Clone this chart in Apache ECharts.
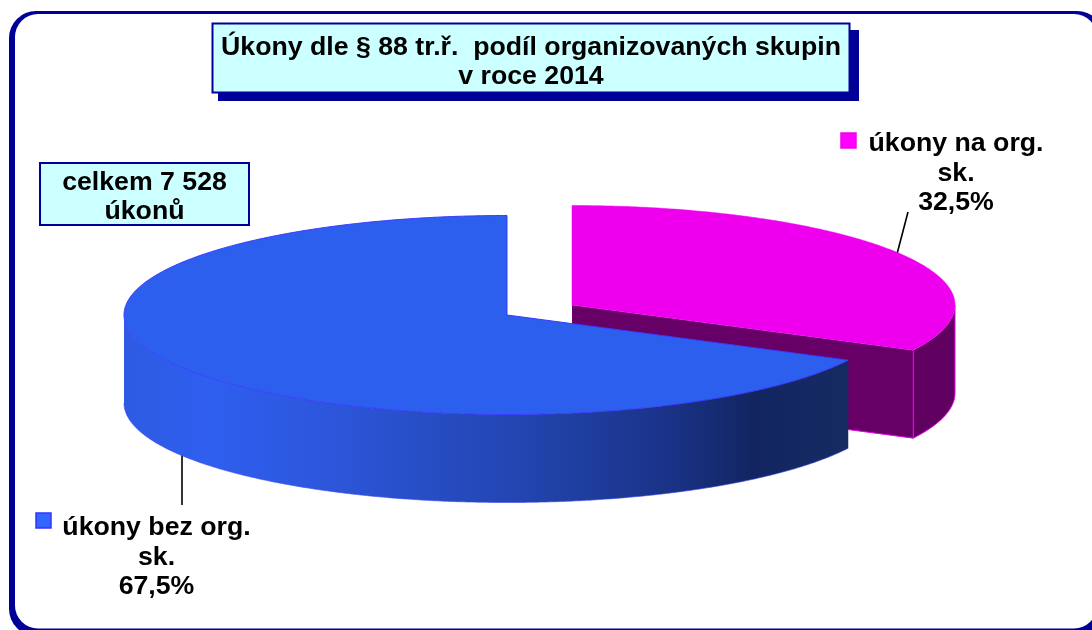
<!DOCTYPE html>
<html><head><meta charset="utf-8">
<style>html,body{margin:0;padding:0;background:#fff;overflow:hidden}#c{width:1092px;height:630px}</style>
<script src="https://cdn.jsdelivr.net/npm/echarts@6/dist/echarts.min.js"></script>
</head><body><div id="c"></div>
<script>
const chartTitle = 'Úkony dle § 88 tr.ř.  podíl organizovaných skupin\nv roce 2014';
const totalNote = 'celkem 7 528\núkonů';
const categories = ['úkony na org.\nsk.', 'úkony bez org.\nsk.'];
const shares = [32.5, 67.5];
const percentLabels = ['32,5%', '67,5%'];

const FONT = '"Liberation Sans", Arial, sans-serif';
const FS = 26.7;
const RX = 383, RY = 99.5, DEPTH = 88;
const sliceLayout = [
  { cx: 572, cy: 305, top: '#ee00ee', side: '#600060', cut: '#660066', edge: '#ee00ee', topEdge: '#ee00ee',
    labelX: 956, labelY: 129, keyX: 841, keyY: 133, keyFill: '#ff00ff', keyStroke: '#ee00ee',
    lead: [[908, 212], [897, 254]] },
  { cx: 507, cy: 315, top: '#2d5fef', side: null, cut: null, edge: '#3a46f5', topEdge: '#3a3aff',
    labelX: 156.5, labelY: 513, keyX: 36, keyY: 513, keyFill: '#3366ff', keyStroke: '#3333ff',
    lead: [[182, 455], [182, 505]] }
];
const blueSideGradient = { type: 'linear', x: 124, y: 0, x2: 848, y2: 0, global: true, colorStops: [
  { offset: 0, color: '#2e5be2' }, { offset: 0.12, color: '#2f5ff0' }, { offset: 0.3, color: '#2c55d8' },
  { offset: 0.55, color: '#2245b0' }, { offset: 0.75, color: '#1a3388' }, { offset: 0.87, color: '#122561' },
  { offset: 1, color: '#162b62' } ] };

const total = shares.reduce((a, b) => a + b, 0);
let acc = 0;
const sliceData = shares.map((v, i) => {
  const start = acc / total * 360; acc += v;
  return { value: [i, v, start, acc / total * 360], name: categories[i] };
});
const pt = (l, deg, dy) => {
  const t = deg * Math.PI / 180;
  return [l.cx + RX * Math.sin(t), l.cy - RY * Math.cos(t) + (dy || 0)];
};
const arc = (l, a, b, dy) => {
  const n = Math.max(2, Math.ceil(Math.abs(b - a) * 2)), out = [];
  for (let k = 0; k <= n; k++) out.push(pt(l, a + (b - a) * k / n, dy));
  return out;
};
function renderSlice(params, api) {
  const i = api.value(0), a = api.value(2), b = api.value(3), l = sliceLayout[i];
  const kids = [];
  kids.push({ type: 'line', shape: { x1: l.lead[0][0], y1: l.lead[0][1], x2: l.lead[1][0], y2: l.lead[1][1] }, style: { stroke: '#000', lineWidth: 1.6 } });
  const fa = Math.max(a, 90), fb = Math.min(b, 270);
  if (i === 0) {
    const e = pt(l, b), eb = pt(l, b, DEPTH), c = [l.cx, l.cy], cb = [l.cx, l.cy + DEPTH];
    kids.push({ type: 'polygon', shape: { points: [c, e, eb, cb] }, style: { fill: l.cut } });
    kids.push({ type: 'polyline', shape: { points: [cb, eb] }, style: { stroke: l.edge, fill: null, lineWidth: 1 } });
  }
  if (fb > fa) {
    const outer = arc(l, fa, fb).concat(arc(l, fb, fa, DEPTH));
    kids.push({ type: 'polygon', shape: { points: outer }, style: { fill: i === 0 ? l.side : blueSideGradient } });
    kids.push({ type: 'polyline', shape: { points: arc(l, fb, fa, DEPTH).concat(i === 0 ? [pt(l, fa)] : []) }, style: { stroke: l.edge, fill: null, lineWidth: 1, opacity: i === 0 ? 1 : 0.6 } });
    if (i === 0) kids.push({ type: 'line', shape: { x1: pt(l, fb)[0], y1: pt(l, fb)[1], x2: pt(l, fb)[0], y2: pt(l, fb)[1] + DEPTH }, style: { stroke: l.edge, lineWidth: 1 } });
  }
  const topPts = [[l.cx, l.cy]].concat(arc(l, a, b));
  kids.push({ type: 'polygon', shape: { points: topPts }, style: { fill: l.top, stroke: l.topEdge, lineWidth: i === 0 ? 0.5 : 1, lineJoin: 'round' } });
  kids.push({ type: 'rect', shape: { x: l.keyX, y: l.keyY, width: 15, height: 15 }, style: { fill: l.keyFill, stroke: l.keyStroke, lineWidth: 1.5 } });
  kids.push({ type: 'text', style: { x: l.labelX, y: l.labelY, text: categories[i] + '\n' + percentLabels[i], textAlign: 'center', textVerticalAlign: 'top',
    font: 'bold ' + FS + 'px ' + FONT, lineHeight: 29.5, fill: '#000' } });
  return { type: 'group', children: kids };
}

const chart = echarts.init(document.getElementById('c'), null, { renderer: 'canvas' });
chart.setOption({
  animation: false,
  backgroundColor: '#fff',
  title: [
    { text: chartTitle, left: 526, top: 28, textAlign: 'center', textStyle: { fontFamily: FONT, fontWeight: 'bold', fontSize: FS, lineHeight: 29, color: '#000' } },
    { text: totalNote, left: 139.5, top: 163, textAlign: 'center', textStyle: { fontFamily: FONT, fontWeight: 'bold', fontSize: FS, lineHeight: 29, color: '#000' } }
  ],
  graphic: [
    { type: 'rect', z: 0, silent: true, shape: { x: 9, y: 11, width: 1095, height: 625, r: 27 }, style: { fill: '#000099' } },
    { type: 'rect', z: 0, silent: true, shape: { x: 15, y: 14, width: 1082, height: 614.5, r: 23 }, style: { fill: '#fff' } },
    { type: 'rect', z: 0, silent: true, shape: { x: 218, y: 30, width: 641, height: 71 }, style: { fill: '#000099' } },
    { type: 'rect', z: 0, silent: true, shape: { x: 212.5, y: 23.5, width: 637, height: 69 }, style: { fill: '#ccffff', stroke: '#000099', lineWidth: 2 } },
    { type: 'rect', z: 0, silent: true, shape: { x: 40, y: 163, width: 209, height: 62 }, style: { fill: '#ccffff', stroke: '#000099', lineWidth: 2 } }
  ],
  series: [
    { type: 'custom', coordinateSystem: 'none', z: 3, silent: true, renderItem: renderSlice, data: [sliceData[0]] },
    { type: 'custom', coordinateSystem: 'none', z: 4, silent: true, renderItem: renderSlice, data: [sliceData[1]] }
  ]
});
</script></body></html>
